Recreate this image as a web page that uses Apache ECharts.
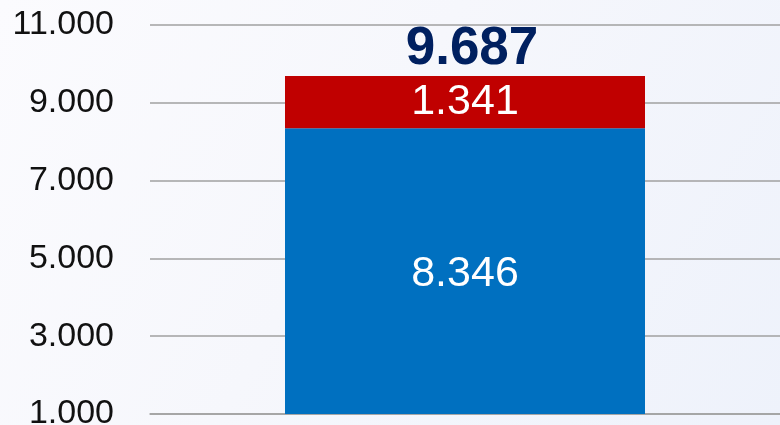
<!DOCTYPE html>
<html>
<head>
<meta charset="utf-8">
<script src="https://cdn.jsdelivr.net/npm/echarts@6/dist/echarts.min.js"></script>
<style>
  html, body { margin: 0; padding: 0; }
  #chart {
    width: 780px;
    height: 425px;
    background: linear-gradient(120deg, #fbfbfe 0%, #f6f7fc 45%, #eef2fb 100%);
  }
</style>
</head>
<body>
<div id="chart"></div>
<script>
// data
const categories = ['Total'];
const baseValues = [8346];   // blue part
const topValues = [1341];    // red part
const yTicks = { min: 1000, max: 11000, step: 2000 };

// 1.234 style (dot as thousands separator)
function fmt(v) {
  return String(Math.round(v)).replace(/\B(?=(\d{3})+(?!\d))/g, '.');
}

const totals = baseValues.map((v, i) => v + topValues[i]);

const chartDom = document.getElementById('chart');
const myChart = echarts.init(chartDom, null, { renderer: 'canvas' });

const font = '"Liberation Sans", Arial, sans-serif';

const option = {
  backgroundColor: 'transparent',
  animation: false,
  grid: { top: 25, bottom: 11, left: 150, right: 0, outerBoundsMode: 'none', containLabel: false },
  xAxis: {
    type: 'category',
    data: categories,
    axisLine: { show: true, lineStyle: { color: '#a0a0a0', width: 1.5 } },
    axisTick: { show: false },
    axisLabel: { show: false }
  },
  yAxis: {
    type: 'value',
    min: yTicks.min,
    max: yTicks.max,
    interval: yTicks.step,
    axisLine: { show: false },
    axisTick: { show: false },
    splitLine: { lineStyle: { color: '#a0a0a0', width: 1.5 } },
    axisLabel: {
      margin: 36,
      fontSize: 34,
      color: '#111',
      fontFamily: font,
      formatter: v => fmt(v)
    }
  },
  series: [
    {
      type: 'bar',
      stack: 'a',
      data: baseValues,
      barWidth: 360,
      itemStyle: { color: '#0070c0' },
      label: {
        show: true,
        position: 'inside',
        offset: [0, 3],
        color: '#fff',
        fontSize: 43,
        fontFamily: font,
        formatter: p => fmt(p.value)
      }
    },
    {
      type: 'bar',
      stack: 'a',
      data: topValues,
      barWidth: 360,
      itemStyle: { color: '#c00000' },
      label: {
        show: true,
        position: 'inside',
        color: '#fff',
        fontSize: 43,
        fontFamily: font,
        formatter: p => fmt(p.value)
      }
    },
    {
      // zero-height bar on top of the stack, carries the total label
      type: 'bar',
      stack: 'a',
      data: totals.map(() => 0),
      barWidth: 360,
      itemStyle: { color: 'transparent' },
      label: {
        show: true,
        position: 'top',
        distance: 0,
        offset: [7, 0],
        color: '#002060',
        fontSize: 53,
        fontWeight: 'bold',
        fontFamily: font,
        formatter: p => fmt(totals[p.dataIndex])
      }
    }
  ]
};

myChart.setOption(option);
</script>
</body>
</html>
